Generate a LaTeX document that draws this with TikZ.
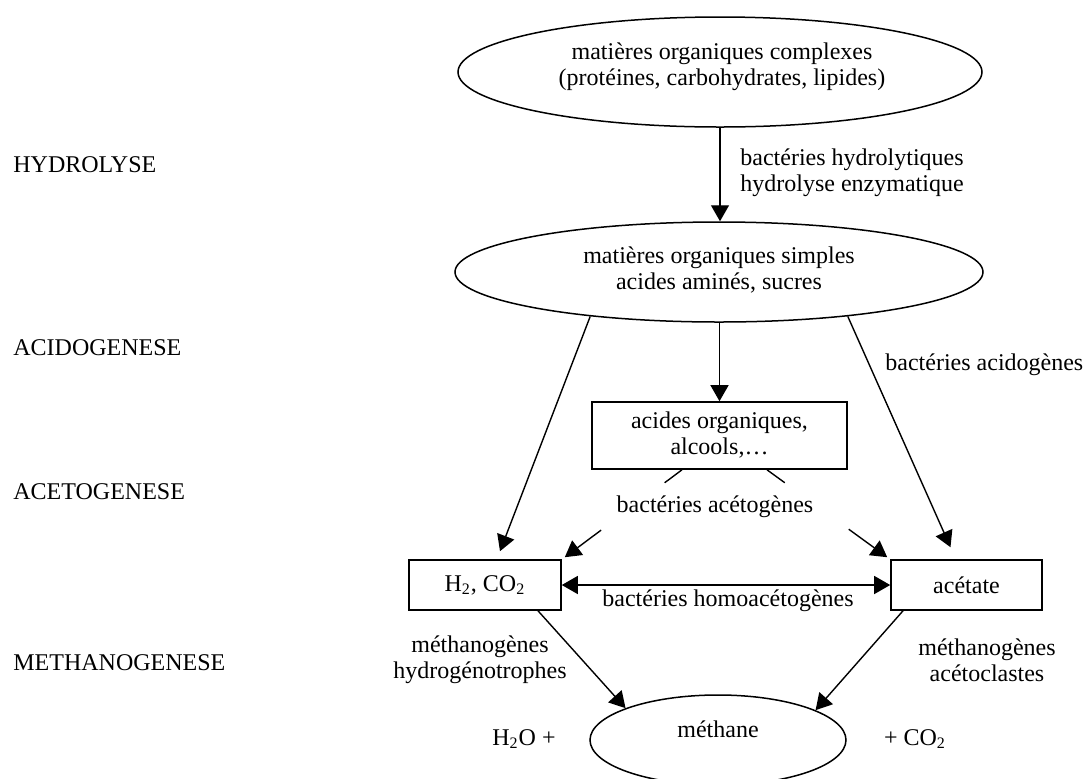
\documentclass[tikz,border=0pt]{standalone}
\usepackage{fontspec}
\setmainfont{Liberation Serif}
\usetikzlibrary{arrows.meta,shapes.geometric,calc}
\begin{document}
\begin{tikzpicture}[x=0.5pt,y=-0.5pt,
  every node/.style={font=\fontsize{12}{13}\selectfont, inner sep=0pt},
  oval/.style={draw, ellipse, line width=0.75pt, inner sep=0pt},
  boxnode/.style={draw, rectangle, line width=0.8pt, align=center},
  plainline/.style={line width=0.7pt},
  arr/.style={line width=0.7pt, -{Triangle[length=8pt,width=9pt]}},
  darr/.style={line width=0.7pt, {Triangle[length=8pt,width=9pt]}-{Triangle[length=8pt,width=9pt]}},
  ]
\useasboundingbox (0,0) rectangle (1083,778);
\clip (0,0) rectangle (1083,778);

% phase labels
\node[anchor=west] (phhyd) at (13,165) {HYDROLYSE};
\node[anchor=west] (phacid) at (13,348) {ACIDOGENESE};
\node[anchor=west] (phacet) at (13,492) {ACETOGENESE};
\node[anchor=west] (phmeth) at (13,663) {METHANOGENESE};

% main nodes
\node[oval, minimum width=262pt, minimum height=55pt] (top) at (720,72) {};
\node[align=center] (toptxt) at (722,67) {matières organiques complexes\\(protéines, carbohydrates, lipides)};
\node[oval, minimum width=264pt, minimum height=50pt] (mid) at (719,272) {};
\node[align=center] (midtxt) at (719,270) {matières organiques simples\\acides aminés, sucres};
\node[boxnode, minimum width=127.5pt, minimum height=33.5pt] (acid) at (719.5,435.5) {acides organiques,\\alcools,…};
\node[boxnode, minimum width=76pt, minimum height=25pt] (h2) at (485,585) {H\textsubscript{2}, CO\textsubscript{2}};
\node[boxnode, minimum width=75.5pt, minimum height=25pt] (acet) at (966.5,585) {acétate};
\node[oval, minimum width=128pt, minimum height=45pt] (meth) at (718,740) {};
\node (methtxt) at (718,729) {méthane};

% arrows
\draw[arr] (top.south) -- (top.south |- mid.north);
\draw[arr] (acid.north |- mid.south) -- (acid.north);
\draw[arr] (mid.199) -- ($(h2.north)+(15,-8)$);
\draw[arr] (mid.-19) -- ($(acet.north)+(-16,-12)$);

\coordinate (a1) at ($(acid.south)+(-37.5,0)$);
\coordinate (t1) at ($(h2.north east)+(3,-2)$);
\coordinate (a2) at ($(acid.south)+(47.5,0)$);
\coordinate (t2) at ($(acet.north west)+(-3,-2)$);
\draw[plainline] (a1) -- ($(a1)!0.148!(t1)$);
\draw[arr] ($(a1)!0.69!(t1)$) -- (t1);
\draw[plainline] (a2) -- ($(a2)!0.148!(t2)$);
\draw[arr] ($(a2)!0.68!(t2)$) -- (t2);

\draw[darr] (h2.east) -- (acet.west);
\draw[arr] ($(h2.south)+(53,0)$) -- (meth.161);
\draw[arr] ($(acet.south)+(-63.5,0)$) -- (meth.17);

% labels
\node[anchor=west, align=left] (hydlbl) at (740,172.5) {bactéries hydrolytiques\\hydrolyse enzymatique};
\node[anchor=west] (acidlbl) at (885,365) {bactéries acidogènes};
\node (acetolbl) at (715,507) {bactéries acétogènes};
\node (homolbl) at (728,601) {bactéries homoacétogènes};
\node[align=center] (hydrolbl) at (480,660) {méthanogènes\\hydrogénotrophes};
\node[align=center] (acetoclbl) at (987,660) {méthanogènes\\acétoclastes};
\node (h2o) at (524,739) {H\textsubscript{2}O +};
\node (co2) at (915,739) {+ CO\textsubscript{2}};
\end{tikzpicture}
\end{document}
